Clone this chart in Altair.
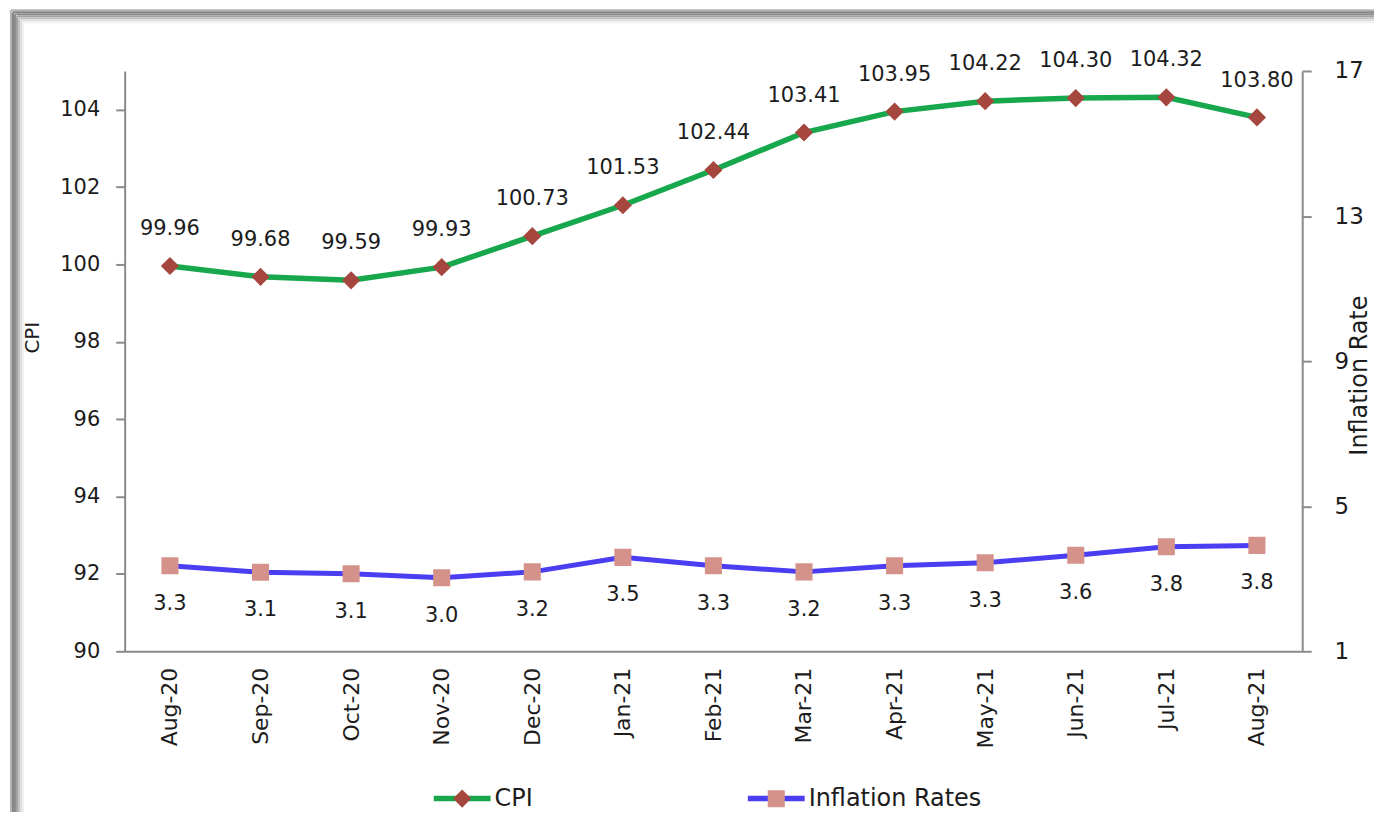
import altair as alt
import pandas as pd

months = ["Aug-20", "Sep-20", "Oct-20", "Nov-20", "Dec-20", "Jan-21", "Feb-21",
          "Mar-21", "Apr-21", "May-21", "Jun-21", "Jul-21", "Aug-21"]
cpi_values = [99.96, 99.68, 99.59, 99.93, 100.73, 101.53, 102.44,
              103.41, 103.95, 104.22, 104.30, 104.32, 103.80]
inflation_values = [3.36, 3.18, 3.14, 3.03, 3.19, 3.59, 3.36,
                    3.19, 3.36, 3.44, 3.65, 3.88, 3.92]
inflation_labels = ["3.3", "3.1", "3.1", "3.0", "3.2", "3.5", "3.3",
                    "3.2", "3.3", "3.3", "3.6", "3.8", "3.8"]
series_names = ["CPI", "Inflation Rates"]
cpi_ticks = [90, 92, 94, 96, 98, 100, 102, 104]
rate_ticks = [1, 5, 9, 13, 17]

rows = []
for m, v in zip(months, cpi_values):
    rows.append({"month": m, "series": "CPI", "marker": "CPI", "value": v, "label": f"{v:.2f}"})
for m, v, l in zip(months, inflation_values, inflation_labels):
    rows.append({"month": m, "series": "Inflation Rates", "marker": "Inflation Rates",
                 "value": v, "label": l})
df = pd.DataFrame(rows)

FONT = "DejaVu Sans"
TXT = "#1c1c1c"
AX = "#8a8a8a"

SYM = 3249  # symbol size -> 57 px legend line
# invisible zero-area end segments keep the marker bounds as wide as the legend line
ends = "M-1,0L-1,0.001M1,0L1,0.001"
diamond = ends + "M0,-0.32L0.32,0L0,0.32L-0.32,0Z"
square = ends + "M-0.3,-0.3L0.3,-0.3L0.3,0.3L-0.3,0.3Z"

x_enc = alt.X("month:N", sort=months, title=None,
              scale=alt.Scale(type="point", padding=0.5),
              axis=alt.Axis(labelAngle=270, labelAlign="right", labelBaseline="middle",
                            ticks=False, labelPadding=16, labelFontSize=22,
                            domainColor=AX, domainWidth=2))

legend_common = dict(orient="none", legendX=307, legendY=698, direction="horizontal",
                     title=None, symbolSize=SYM, columnPadding=204, padding=0,
                     labelFont=FONT, labelFontSize=24, labelColor=TXT, labelOffset=1,
                     labelLimit=400, symbolStrokeWidth=5.5)

stroke_enc = alt.Stroke("series:N",
                        scale=alt.Scale(domain=series_names, range=["#17A84E", "#4A3DF2"]),
                        legend=alt.Legend(symbolType="stroke", **legend_common))
marker_legend = alt.Legend(labelOpacity=0, symbolStrokeColor="transparent", **legend_common)
fill_enc = alt.Fill("marker:N", sort="ascending",
                    scale=alt.Scale(range=["#A6473F", "#D4928B"]),
                    legend=marker_legend)
shape_enc = alt.Shape("marker:N", sort="ascending",
                      scale=alt.Scale(range=[diamond, square]),
                      legend=marker_legend)

cpi_base = alt.Chart(df).transform_filter(alt.datum.series == "CPI").encode(
    x=x_enc,
    y=alt.Y("value:Q", title="CPI",
            scale=alt.Scale(domain=[90, 105], nice=False, zero=False),
            axis=alt.Axis(orient="left", values=cpi_ticks, titleAngle=270,
                          titleX=-92, titleY=267, titleAlign="center",
                          titleBaseline="middle", labelPadding=16, labelFontSize=21)),
)
cpi_layer = alt.layer(
    cpi_base.mark_line(strokeWidth=5.5).encode(stroke=stroke_enc),
    cpi_base.mark_point(filled=True, size=SYM, opacity=1).encode(fill=fill_enc, shape=shape_enc),
    cpi_base.mark_text(dy=-37, font=FONT, fontSize=21, color=TXT, baseline="middle").encode(
        text="label:N"),
)

inf_base = alt.Chart(df).transform_filter(alt.datum.series == "Inflation Rates").encode(
    x=x_enc,
    y=alt.Y("value:Q", title="Inflation Rate",
            scale=alt.Scale(domain=[1, 17], nice=False, zero=False),
            axis=alt.Axis(orient="right", values=rate_ticks, titleAngle=270,
                          titleX=57, titleY=305, titleAlign="center",
                          titleBaseline="middle", titleFontSize=24,
                          labelPadding=23, labelFontSize=23)),
)
inf_layer = alt.layer(
    inf_base.mark_line(strokeWidth=5).encode(stroke=stroke_enc),
    inf_base.mark_point(filled=True, size=SYM, opacity=1).encode(fill=fill_enc, shape=shape_enc),
    inf_base.mark_text(dy=38, font=FONT, fontSize=21, color=TXT, baseline="middle").encode(
        text="label:N"),
)

# decorative picture frame (gray bevel at the left and top edges)
one = pd.DataFrame({"k": [0]})
frame_colors = ["#b5b5b5", "#858585", "#8c8c8c", "#a2a2a2", "#c2c2c2", "#dedede", "#f0f0f0"]
frame_layers = []
for i, c in enumerate(frame_colors):
    frame_layers.append(alt.Chart(one).mark_rule(strokeWidth=2, color=c).encode(
        x=alt.value(-114 + 2 * i), y=alt.value(-61 + 2 * i), y2=alt.value(745)))
    frame_layers.append(alt.Chart(one).mark_rule(strokeWidth=2, color=c).encode(
        y=alt.value(-61 + 2 * i), x=alt.value(-114 + 2 * i), x2=alt.value(1260)))

chart = alt.layer(*frame_layers, cpi_layer, inf_layer).resolve_scale(
    y="independent"
).properties(
    width=1181, height=582,
    autosize=alt.AutoSizeParams(type="none"),
    padding={"left": 117, "top": 62, "right": 72, "bottom": 160},
    background="white",
).configure_view(stroke=None).configure_axis(
    grid=False, domainColor=AX, domainWidth=2, tickColor=AX, tickWidth=2, tickSize=9,
    labelFont=FONT, labelFontSize=20, labelColor=TXT,
    titleFont=FONT, titleFontSize=20, titleFontWeight="normal", titleColor=TXT,
)

chart.save("out.html", embed_options={"renderer": "svg", "actions": False})
